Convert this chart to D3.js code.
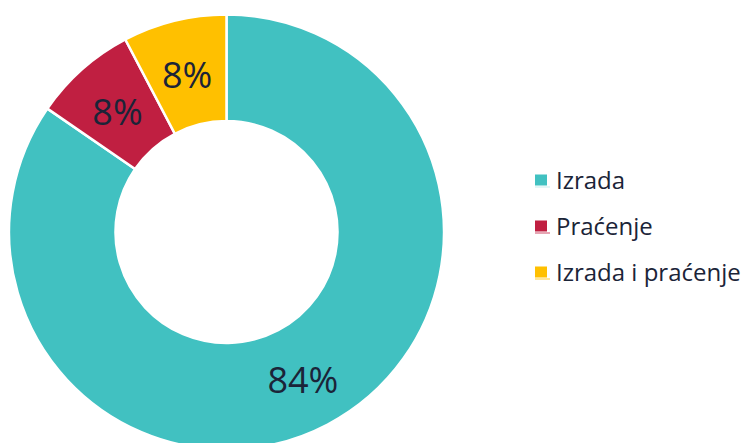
<!DOCTYPE html>
<html>
<head>
<meta charset="utf-8">
<script src="https://cdn.jsdelivr.net/npm/d3@7"></script>
<style>
	body { margin: 0; background: #fff; }
	svg { display: block; font-family: 'Open Sans', sans-serif; }
</style>
</head>
<body>
<div id="chart"></div>
<script>
// data
var categories = ['Izrada', 'Praćenje', 'Izrada i praćenje'];
var values = [84.6, 7.7, 7.7];
var labels = ['84%', '8%', '8%'];
var colors = ['#41c1c1', '#c01f41', '#ffc000'];

var width = 743, height = 443;
var cx = 226.5, cy = 232;
var outerR = 217.5, innerR = 111;
var textColor = '#1b2438';

var svg = d3.select('#chart').append('svg')
	.attr('width', width)
	.attr('height', height);

var rows = categories.map(function(c, i) {
	return {name: c, value: values[i], label: labels[i], color: colors[i]};
});

var pie = d3.pie()
	.sort(null)
	.value(function(d) { return d.value; });

var arc = d3.arc()
	.innerRadius(innerR)
	.outerRadius(outerR);

var g = svg.append('g')
	.attr('transform', 'translate(' + cx + ',' + cy + ')');

var slices = g.selectAll('.slice')
	.data(pie(rows))
	.enter().append('g')
	.attr('class', 'slice');

slices.append('path')
	.attr('d', arc)
	.attr('fill', function(d) { return d.data.color; })
	.attr('stroke', '#fff')
	.attr('stroke-width', 2.5);

slices.append('text')
	.attr('transform', function(d) { return 'translate(' + arc.centroid(d) + ')'; })
	.attr('dy', '0.43em')
	.attr('text-anchor', 'middle')
	.attr('font-size', 36)
	.attr('fill', textColor)
	.text(function(d) { return d.data.label; });

// legend
var legend = svg.append('g')
	.attr('transform', 'translate(535,180)');

var items = legend.selectAll('.item')
	.data(rows)
	.enter().append('g')
	.attr('class', 'item')
	.attr('transform', function(d, i) { return 'translate(0,' + i * 46 + ')'; });

items.append('rect')
	.attr('x', 0)
	.attr('y', -5.5)
	.attr('width', 12)
	.attr('height', 11)
	.attr('fill', function(d) { return d.color; });

items.append('line')
	.attr('x1', 0)
	.attr('x2', 15)
	.attr('y1', 7)
	.attr('y2', 7)
	.attr('stroke', function(d) { return d.color; })
	.attr('stroke-opacity', function(d, i) { return i == 0 ? 0.3 : 0.8; })
	.attr('stroke-width', 1);

items.append('text')
	.attr('x', 21)
	.attr('y', 0)
	.attr('dy', '0.36em')
	.attr('font-size', 24)
	.attr('fill', textColor)
	.text(function(d) { return d.name; });
</script>
</body>
</html>
